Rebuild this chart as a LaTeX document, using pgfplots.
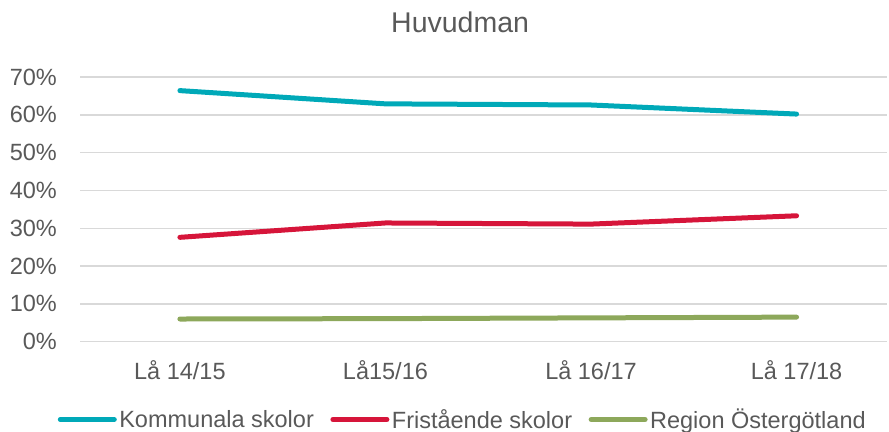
\documentclass[border=0pt]{standalone}
\usepackage{pgfplots}
\pgfplotsset{compat=1.18}
\usepackage{fontspec}
\setmainfont{Liberation Sans}
\definecolor{txtgray}{HTML}{595959}
\definecolor{gridgray}{HTML}{D9D9D9}
\definecolor{kteal}{HTML}{00A9B8}
\definecolor{fred}{HTML}{D6153A}
\definecolor{rgreen}{HTML}{8DA85B}
\begin{document}
\begin{tikzpicture}
\useasboundingbox (0,0) rectangle (889bp,432bp);
\begin{axis}[
  at={(80bp,90.3bp)}, anchor=south west,
  scale only axis, width=807bp, height=264.7bp,
  xmin=-0.486, xmax=3.44, ymin=0, ymax=70,
  axis line style={draw=none},
  xtick={0,1,2,3},
  xticklabels={Lå 14/15, Lå15/16, Lå 16/17, Lå 17/18},
  ytick={0,10,20,30,40,50,60,70},
  yticklabels={0\%,10\%,20\%,30\%,40\%,50\%,60\%,70\%},
  major tick length=0pt,
  ymajorgrids, grid style={gridgray, line width=1.5bp},
  tick label style={font=\fontsize{23.5bp}{28bp}\selectfont, text=txtgray},
  xticklabel style={anchor=base, yshift=-38bp, inner sep=0pt},
  yticklabel style={anchor=east, xshift=-23bp, inner sep=0pt},
  title={Huvudman},
  title style={at={(axis description cs:0.471,1)}, anchor=base, yshift=38.7bp, inner sep=0pt, font=\fontsize{28.5bp}{34bp}\selectfont, text=txtgray},
  legend columns=3,
  legend style={at={(0.4746,-0.294)}, anchor=center, draw=none, fill=none,
    font=\fontsize{23.5bp}{28bp}\selectfont, text=txtgray,
    nodes={inner sep=2.5bp},
    /tikz/every even column/.append style={column sep=14bp}},
  legend image code/.code={\draw[#1, line width=5bp, line cap=round] (1bp,0bp) -- (55bp,0bp);},
  every axis plot/.append style={line width=5bp, line cap=round, line join=round, mark=none},
]
\addplot[kteal] coordinates {(0,66.4) (1,62.9) (2,62.6) (3,60.2)};
\addlegendentry{Kommunala skolor}
\addplot[fred] coordinates {(0,27.6) (1,31.4) (2,31.1) (3,33.3)};
\addlegendentry{Fristående skolor}
\addplot[rgreen] coordinates {(0,6.0) (1,6.1) (2,6.3) (3,6.5)};
\addlegendentry{Region Östergötland}
\end{axis}
\end{tikzpicture}
\end{document}
